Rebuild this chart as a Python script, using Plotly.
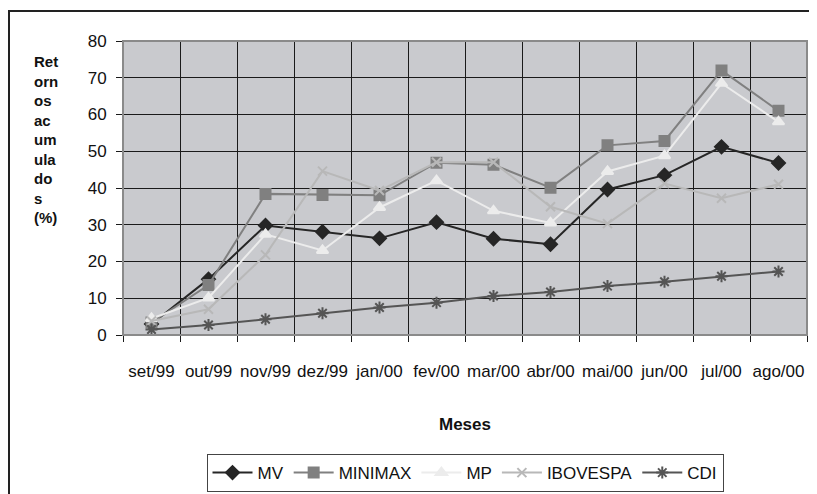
import plotly.graph_objects as go

meses = ["set/99", "out/99", "nov/99", "dez/99", "jan/00", "fev/00",
         "mar/00", "abr/00", "mai/00", "jun/00", "jul/00", "ago/00"]
mv = [3.0, 15.2, 29.8, 28.1, 26.3, 30.7, 26.2, 24.7, 39.6, 43.5, 51.2, 46.8]
minimax = [3.4, 13.6, 38.4, 38.1, 38.0, 46.9, 46.3, 40.1, 51.6, 52.8, 72.0, 61.0]
mp = [4.5, 10.1, 27.4, 23.0, 34.7, 42.0, 33.8, 30.5, 44.5, 48.8, 68.5, 58.0]
ibovespa = [3.8, 7.0, 21.8, 44.6, 39.3, 47.0, 47.0, 34.9, 30.3, 41.2, 37.2, 41.0]
cdi = [1.5, 2.7, 4.3, 5.9, 7.5, 8.8, 10.6, 11.7, 13.3, 14.5, 16.0, 17.3]
y_ticks = [0, 10, 20, 30, 40, 50, 60, 70, 80]

FONT = "Liberation Sans, Arial, sans-serif"

fig = go.Figure()
series = [
    ("MV", mv, "#262626", "diamond", 10),
    ("MINIMAX", minimax, "#808080", "square", 10),
    ("MP", mp, "#ECECEC", "triangle-up", 10),
    ("IBOVESPA", ibovespa, "#B8B8B8", "x-thin", 9),
    ("CDI", cdi, "#555555", "asterisk", 10),
]
for name, vals, col, sym, sz in series:
    fig.add_trace(go.Scatter(
        x=meses, y=vals, name=name, mode="lines+markers",
        line=dict(color=col, width=2),
        marker=dict(symbol=sym, size=sz, color=col,
                    line=dict(color=col, width=2)),
    ))

fig.update_layout(
    template="none",
    width=809, height=486,
    margin=dict(l=115, r=10, t=33, b=159, autoexpand=False),
    paper_bgcolor="white",
    plot_bgcolor="#C9CACE",
    font=dict(family=FONT, size=17, color="#111111"),
    showlegend=True,
    legend=dict(
        orientation="h", x=0.5, xanchor="center", y=-0.405, yanchor="top",
        bordercolor="#444444", borderwidth=1, bgcolor="white",
        font=dict(family=FONT, size=17, color="#111111"),
        itemwidth=40, tracegroupgap=0,
    ),
    xaxis=dict(
        type="category", tickson="boundaries", automargin=False,
        showgrid=True, gridcolor="#1a1a1a", gridwidth=1,
        ticks="outside", ticklen=6, tickcolor="#1a1a1a", tickangle=0,
        showline=True, linecolor="#1a1a1a", linewidth=1,
        mirror=False, ticklabelstandoff=21,
        tickfont=dict(family=FONT, size=17),
        title=dict(text="<b>Meses</b>", standoff=37,
                   font=dict(family=FONT, size=17)),
        range=[-0.5, 11.5],
    ),
    yaxis=dict(
        range=[0, 80], tickvals=y_ticks, automargin=False,
        showgrid=True, gridcolor="#1a1a1a", gridwidth=1,
        ticks="outside", ticklen=6, tickcolor="#1a1a1a",
        showline=True, linecolor="#1a1a1a", linewidth=1,
        zeroline=False, ticklabelstandoff=6,
        tickfont=dict(family=FONT, size=17),
    ),
    shapes=[
        dict(type="rect", xref="paper", yref="paper", x0=0, x1=1, y0=0, y1=1,
             line=dict(color="#8a8a8a", width=2), fillcolor="rgba(0,0,0,0)",
             layer="above"),
        dict(type="rect", xref="paper", yref="paper",
             x0=-114/684, x1=1 + 30/684, y0=-200/294, y1=1 + 30/294,
             line=dict(color="#222222", width=2), fillcolor="rgba(0,0,0,0)",
             layer="above"),
    ],
    annotations=[
        dict(text="<b>Ret<br>orn<br>os<br>ac<br>um<br>ula<br>do<br>s<br>(%)</b>",
             xref="paper", yref="paper", x=-91/684, xanchor="left",
             y=(294 - 10) / 294, yanchor="top", align="left", showarrow=False,
             font=dict(family=FONT, size=15, color="#111111")),
    ],
)

fig.write_html("out.html")
